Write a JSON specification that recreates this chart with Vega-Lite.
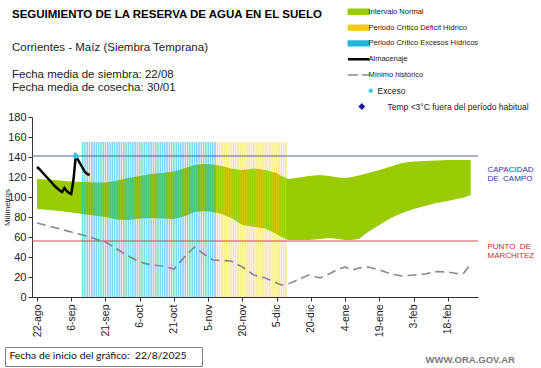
{
 "$schema": "https://vega.github.io/schema/vega-lite/v6.json",
 "width": 446,
 "height": 180,
 "autosize": {"type": "none"},
 "padding": {"left": 32, "top": 117, "right": 63, "bottom": 71},
 "background": "white",
 "title": {
  "text": "SEGUIMIENTO DE LA RESERVA DE AGUA EN EL SUELO",
  "subtitle": ["Corrientes - Maíz (Siembra Temprana)", "\u200b", "Fecha media de siembra: 22/08", "Fecha media de cosecha: 30/01"],
  "anchor": "start", "frame": "group", "dx": -20, "offset": -85.5,
  "font": "Liberation Sans", "fontSize": 11.5, "fontWeight": "bold", "color": "#000",
  "subtitleFont": "Liberation Sans", "subtitleFontSize": 11.5, "subtitleColor": "#222",
  "subtitleLineHeight": 13.5, "subtitlePadding": 21
 },
 "datasets": {
  "band": [
   {"d":"2025-08-22","hi":118,"lo":88,"min":74},
   {"d":"2025-08-27","hi":117.5,"lo":87,"min":71},
   {"d":"2025-09-01","hi":116.5,"lo":86,"min":68},
   {"d":"2025-09-06","hi":115.5,"lo":84.5,"min":65},
   {"d":"2025-09-11","hi":115,"lo":83,"min":62},
   {"d":"2025-09-16","hi":114.5,"lo":81.5,"min":58.5},
   {"d":"2025-09-21","hi":114.5,"lo":80,"min":55},
   {"d":"2025-09-26","hi":116.5,"lo":77.5,"min":48},
   {"d":"2025-10-01","hi":119,"lo":77,"min":41},
   {"d":"2025-10-06","hi":121,"lo":78.5,"min":35},
   {"d":"2025-10-11","hi":123,"lo":79,"min":32},
   {"d":"2025-10-16","hi":124,"lo":78.5,"min":31},
   {"d":"2025-10-21","hi":125.5,"lo":78,"min":28},
   {"d":"2025-10-26","hi":129,"lo":81,"min":41},
   {"d":"2025-10-30","hi":132,"lo":85,"min":50},
   {"d":"2025-11-03","hi":133,"lo":86,"min":43},
   {"d":"2025-11-07","hi":132.5,"lo":85,"min":37},
   {"d":"2025-11-11","hi":131,"lo":83,"min":36.5},
   {"d":"2025-11-15","hi":128.5,"lo":79,"min":36},
   {"d":"2025-11-20","hi":127,"lo":72,"min":30},
   {"d":"2025-11-25","hi":128.5,"lo":70,"min":22},
   {"d":"2025-11-30","hi":127,"lo":68.5,"min":19},
   {"d":"2025-12-05","hi":124,"lo":63,"min":14},
   {"d":"2025-12-07","hi":121,"lo":60,"min":12},
   {"d":"2025-12-10","hi":118,"lo":57,"min":13},
   {"d":"2025-12-15","hi":119.5,"lo":57,"min":18},
   {"d":"2025-12-19","hi":121,"lo":57,"min":22},
   {"d":"2025-12-24","hi":122,"lo":58,"min":19},
   {"d":"2025-12-28","hi":121,"lo":59,"min":23},
   {"d":"2026-01-01","hi":119.5,"lo":58,"min":28},
   {"d":"2026-01-04","hi":119,"lo":57,"min":30},
   {"d":"2026-01-07","hi":120,"lo":57,"min":27},
   {"d":"2026-01-10","hi":121.5,"lo":58,"min":29},
   {"d":"2026-01-14","hi":124,"lo":65,"min":30},
   {"d":"2026-01-19","hi":127,"lo":72,"min":27},
   {"d":"2026-01-24","hi":130.5,"lo":79,"min":23},
   {"d":"2026-01-29","hi":134,"lo":84,"min":21},
   {"d":"2026-02-03","hi":135.5,"lo":88,"min":22},
   {"d":"2026-02-08","hi":136,"lo":91,"min":23},
   {"d":"2026-02-13","hi":136.5,"lo":94,"min":25.5},
   {"d":"2026-02-18","hi":137,"lo":96,"min":25},
   {"d":"2026-02-23","hi":137,"lo":98.5,"min":23},
   {"d":"2026-02-25","hi":137,"lo":99.5,"min":24},
   {"d":"2026-02-28","hi":137,"lo":102,"min":33}
  ],
  "storage": [
   {"d":"2025-08-22","v":130},{"d":"2025-08-23","v":128},{"d":"2025-08-24","v":125.5},{"d":"2025-08-25","v":123},
   {"d":"2025-08-26","v":120.5},{"d":"2025-08-27","v":118},{"d":"2025-08-28","v":115.5},{"d":"2025-08-29","v":113},
   {"d":"2025-08-30","v":110.5},{"d":"2025-08-31","v":108.5},{"d":"2025-09-01","v":106.5},{"d":"2025-09-02","v":105},
   {"d":"2025-09-03","v":109},{"d":"2025-09-04","v":106},{"d":"2025-09-05","v":104},{"d":"2025-09-06","v":103},
   {"d":"2025-09-07","v":118},{"d":"2025-09-08","v":141},{"d":"2025-09-09","v":137},{"d":"2025-09-10","v":133},
   {"d":"2025-09-11","v":129},{"d":"2025-09-12","v":125},{"d":"2025-09-13","v":123},{"d":"2025-09-14","v":122}
  ],
  "exceso": [{"d":"2025-09-08","v":141}],
  "refs": [{"ref":"CAPACIDAD DE CAMPO","v":141},{"ref":"PUNTO DE MARCHITEZ","v":56}],
  "exc": [
   {"d":"2025-09-11"},{"d":"2025-09-12"},{"d":"2025-09-13"},{"d":"2025-09-14"},{"d":"2025-09-15"},{"d":"2025-09-16"},{"d":"2025-09-17"},{"d":"2025-09-18"},{"d":"2025-09-19"},{"d":"2025-09-20"},
   {"d":"2025-09-21"},{"d":"2025-09-22"},{"d":"2025-09-23"},{"d":"2025-09-24"},{"d":"2025-09-25"},{"d":"2025-09-26"},{"d":"2025-09-27"},{"d":"2025-09-28"},{"d":"2025-09-29"},{"d":"2025-09-30"},
   {"d":"2025-10-01"},{"d":"2025-10-02"},{"d":"2025-10-03"},{"d":"2025-10-04"},{"d":"2025-10-05"},{"d":"2025-10-06"},{"d":"2025-10-07"},{"d":"2025-10-08"},{"d":"2025-10-09"},{"d":"2025-10-10"},
   {"d":"2025-10-11"},{"d":"2025-10-12"},{"d":"2025-10-13"},{"d":"2025-10-14"},{"d":"2025-10-15"},{"d":"2025-10-16"},{"d":"2025-10-17"},{"d":"2025-10-18"},{"d":"2025-10-19"},{"d":"2025-10-20"},
   {"d":"2025-10-21"},{"d":"2025-10-22"},{"d":"2025-10-23"},{"d":"2025-10-24"},{"d":"2025-10-25"},{"d":"2025-10-26"},{"d":"2025-10-27"},{"d":"2025-10-28"},{"d":"2025-10-29"},{"d":"2025-10-30"},
   {"d":"2025-10-31"},{"d":"2025-11-01"},{"d":"2025-11-02"},{"d":"2025-11-03"},{"d":"2025-11-04"},{"d":"2025-11-05"},{"d":"2025-11-06"},{"d":"2025-11-07"},{"d":"2025-11-08"}
  ],
  "def": [
   {"d":"2025-11-09"},{"d":"2025-11-10"},{"d":"2025-11-11"},{"d":"2025-11-12"},{"d":"2025-11-13"},{"d":"2025-11-14"},{"d":"2025-11-15"},{"d":"2025-11-16"},{"d":"2025-11-17"},{"d":"2025-11-18"},
   {"d":"2025-11-19"},{"d":"2025-11-20"},{"d":"2025-11-21"},{"d":"2025-11-22"},{"d":"2025-11-23"},{"d":"2025-11-24"},{"d":"2025-11-25"},{"d":"2025-11-26"},{"d":"2025-11-27"},{"d":"2025-11-28"},
   {"d":"2025-11-29"},{"d":"2025-11-30"},{"d":"2025-12-01"},{"d":"2025-12-02"},{"d":"2025-12-03"},{"d":"2025-12-04"},{"d":"2025-12-05"},{"d":"2025-12-06"},{"d":"2025-12-07"},{"d":"2025-12-08"},{"d":"2025-12-09"}
  ]
 },
 "layer": [
  {
   "data": {"name": "band"},
   "mark": {"type": "area"},
   "encoding": {
    "x": {"field": "d", "type": "temporal", "title": "WWW.ORA.GOV.AR",
     "scale": {"type": "utc", "domain": [{"year": 2025, "month": 8, "date": 22, "utc": true}, {"year": 2026, "month": 3, "date": 1, "utc": true}]},
     "axis": {
      "values": [
       {"year": 2025, "month": 8, "date": 22, "utc": true},
       {"year": 2025, "month": 9, "date": 6, "utc": true},
       {"year": 2025, "month": 9, "date": 21, "utc": true},
       {"year": 2025, "month": 10, "date": 6, "utc": true},
       {"year": 2025, "month": 10, "date": 21, "utc": true},
       {"year": 2025, "month": 11, "date": 5, "utc": true},
       {"year": 2025, "month": 11, "date": 20, "utc": true},
       {"year": 2025, "month": 12, "date": 5, "utc": true},
       {"year": 2025, "month": 12, "date": 20, "utc": true},
       {"year": 2026, "month": 1, "date": 4, "utc": true},
       {"year": 2026, "month": 1, "date": 19, "utc": true},
       {"year": 2026, "month": 2, "date": 3, "utc": true},
       {"year": 2026, "month": 2, "date": 18, "utc": true}
      ],
      "labelExpr": "utcdate(datum.value) + '-' + ['ene','feb','mar','abr','may','jun','jul','ago','sep','oct','nov','dic'][utcmonth(datum.value)]",
      "labelAngle": -90, "labelFontSize": 10.5, "labelColor": "#222", "labelPadding": 3,
      "labelOverlap": false, "labelFlush": false, "labelBound": false,
      "tickSize": 4, "tickColor": "#333", "domainColor": "#333", "grid": false,
      "titleX": 393, "titleY": 65, "titleAlign": "left", "titleBaseline": "alphabetic",
      "titleFont": "Liberation Sans", "titleFontSize": 9.5, "titleFontWeight": "bold", "titleColor": "#7a7a7a"
     }
    },
    "y": {"field": "hi", "type": "quantitative", "title": "Milímetros",
     "scale": {"domain": [0, 180], "nice": false},
     "axis": {"values": [0, 20, 40, 60, 80, 100, 120, 140, 160, 180], "labelFontSize": 11, "labelColor": "#222",
      "labelOverlap": false, "labelFlush": false, "labelBound": false,
      "tickSize": 4, "tickColor": "#333", "domainColor": "#333", "labelPadding": 2, "grid": false,
      "titleFontSize": 8, "titleFontWeight": "normal", "titleColor": "#222", "titleX": -21, "titleBaseline": "bottom"}
    },
    "y2": {"field": "lo"},
    "color": {"datum": "Intervalo Normal", "type": "nominal",
     "scale": {
      "domain": ["Intervalo Normal", "Periodo Crítico Déficit Hídrico", "Periodo Crítico Excesos Hídricos", "Almacenaje", "Mínimo histórico", "Exceso", "Temp <3°C fuera del período habitual"],
      "range": ["#99cc00", "#f0cc10", "#1fb6d6", "#000000", "#888888", "#33ccee", "#1a1a9a"]
     },
     "legend": {
      "orient": "none", "legendX": 323, "legendY": -109, "title": null, "padding": 0,
      "symbolSize": 256, "rowPadding": 3.8, "gridAlign": "all", "labelOffset": 6,
      "labelFont": "Liberation Sans", "labelFontSize": 7.5, "labelColor": "#222",
      "encode": {
       "symbols": {"update": {
        "shape": {"signal": "datum.value === 'Almacenaje' || datum.value === 'Mínimo histórico' ? 'M-1.35,0H1.35' : datum.value === 'Exceso' ? 'M1.68,0A0.18,0.18,0,1,1,1.32,0A0.18,0.18,0,1,1,1.68,0Z' : datum.value === 'Temp <3°C fuera del período habitual' ? 'M0.38,-0.3L0.68,0L0.38,0.3L0.08,0Z' : 'M-1.3,-0.3H1.3V0.3H-1.3Z'"},
        "fill": {"signal": "datum.value === 'Almacenaje' || datum.value === 'Mínimo histórico' ? 'transparent' : {'Intervalo Normal':'#99cc00','Periodo Crítico Déficit Hídrico':'#ffcc00','Periodo Crítico Excesos Hídricos':'#33ccee','Exceso':'#33ccee'}[datum.value] || '#1a1a9a'"},
        "stroke": {"signal": "datum.value === 'Almacenaje' ? '#000000' : datum.value === 'Mínimo histórico' ? '#888888' : 'transparent'"},
        "strokeWidth": {"signal": "datum.value === 'Almacenaje' ? 2.5 : 1.5"},
        "strokeDash": {"signal": "datum.value === 'Mínimo histórico' ? [10, 4] : [1, 0]"},
        "opacity": {"value": 1}
       }},
       "labels": {"update": {
        "dx": {"signal": "datum.value === 'Exceso' ? 9 : datum.value === 'Temp <3°C fuera del período habitual' ? 19 : 0"},
        "fontSize": {"signal": "datum.value === 'Exceso' || datum.value === 'Temp <3°C fuera del período habitual' ? 8.5 : 7.5"}
       }}
      }
     }
    }
   }
  },
  {
   "data": {"name": "exc"},
   "mark": {"type": "bar", "width": 1.6, "opacity": 0.55},
   "encoding": {
    "x": {"field": "d", "type": "temporal", "axis": null},
    "y": {"datum": 155, "type": "quantitative", "axis": null},
    "y2": {"datum": 0},
    "color": {"datum": "Periodo Crítico Excesos Hídricos", "type": "nominal"}
   }
  },
  {
   "data": {"name": "def"},
   "mark": {"type": "bar", "width": 1.6, "opacity": 0.45},
   "encoding": {
    "x": {"field": "d", "type": "temporal", "axis": null},
    "y": {"datum": 155, "type": "quantitative", "axis": null},
    "y2": {"datum": 0},
    "color": {"datum": "Periodo Crítico Déficit Hídrico", "type": "nominal"}
   }
  },
  {
   "data": {"name": "band"},
   "mark": {"type": "line", "strokeDash": [9, 5], "strokeWidth": 1.6},
   "encoding": {
    "x": {"field": "d", "type": "temporal", "axis": null},
    "y": {"field": "min", "type": "quantitative", "axis": null},
    "color": {"datum": "Mínimo histórico", "type": "nominal"}
   }
  },
  {
   "data": {"name": "refs"},
   "mark": {"type": "rule", "strokeWidth": 1},
   "encoding": {
    "y": {"field": "v", "type": "quantitative", "title": null,
     "axis": {
      "orient": "right", "values": [141, 56], "domain": false, "ticks": false, "grid": false, "title": null,
      "labelExpr": "datum.value > 100 ? ['CAPACIDAD', 'DE\u00a0\u00a0CAMPO'] : ['PUNTO\u00a0\u00a0DE', 'MARCHITEZ']",
      "labelFont": "Liberation Sans", "labelFontSize": 8, "labelLineHeight": 9, "labelPadding": 9,
      "labelAlign": "left", "labelBaseline": "top", "labelOverlap": false, "labelBound": false, "labelFlush": false,
      "labelColor": {"condition": {"test": "datum.value > 100", "value": "#3333aa"}, "value": "#cc2a2a"},
      "labelOffset": {"condition": {"test": "datum.value > 100", "value": 9}, "value": 1}
     }
    },
    "color": {"condition": {"test": "datum.v > 100", "value": "#56648f"}, "value": "#c0504d"}
   }
  },
  {
   "data": {"name": "storage"},
   "mark": {"type": "line", "strokeWidth": 2.5},
   "encoding": {
    "x": {"field": "d", "type": "temporal", "axis": null},
    "y": {"field": "v", "type": "quantitative", "axis": null},
    "color": {"datum": "Almacenaje", "type": "nominal"}
   }
  },
  {
   "data": {"name": "exceso"},
   "mark": {"type": "point", "filled": true, "size": 30, "opacity": 1},
   "encoding": {
    "x": {"field": "d", "type": "temporal", "axis": null},
    "y": {"field": "v", "type": "quantitative", "axis": null},
    "color": {"datum": "Exceso", "type": "nominal"},
    "shape": {"datum": "Fecha de inicio del gráfico:\u00a0\u00a022/8/2025\u00a0\u00a0\u00a0\u00a0\u200b", "type": "nominal",
     "scale": {"range": ["circle"]},
     "legend": {"orient": "none", "legendX": -27, "legendY": 230, "title": null,
      "strokeColor": "#7f7f7f", "fillColor": "white", "padding": 4,
      "symbolSize": 0, "symbolOpacity": 0, "symbolStrokeWidth": 0, "labelOffset": -10,
      "labelFont": "Lato", "labelFontSize": 10.4, "labelColor": "#111", "labelLimit": 300}
    }
   }
  }
 ],
 "resolve": {"axis": {"x": "independent", "y": "independent"}},
 "config": {"view": {"stroke": null}, "font": "Liberation Sans", "axis": {"grid": false, "labelOverlap": false}}
}
